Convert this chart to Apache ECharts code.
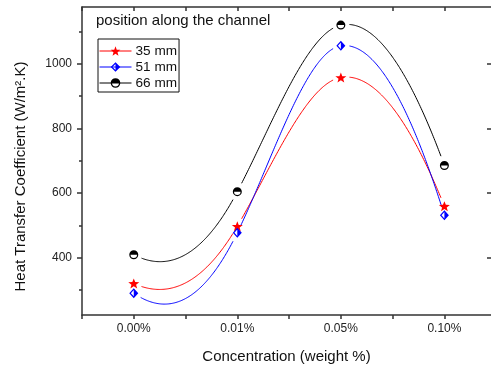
<!DOCTYPE html>
<html>
<head>
<meta charset="utf-8">
<script src="https://cdn.jsdelivr.net/npm/echarts@6/dist/echarts.min.js"></script>
<style>
html,body{margin:0;padding:0;background:#fff;}
#chart{width:491px;height:373px;}
</style>
</head>
<body>
<div id="chart"></div>
<script>
// ---- data ----
const categories = ['0.00%', '0.01%', '0.05%', '0.10%'];
const seriesNames = ['35 mm', '51 mm', '66 mm'];
const values35 = [320, 497, 957, 559];
const values51 = [290, 477, 1055, 531];
const values66 = [409, 604, 1119, 685];
const yTickLabels = [400, 600, 800, 1000];
const yMinorTicks = [300, 500, 700, 900, 1100];
const xTickPositions = [-0.5, 0, 0.5, 1, 1.5, 2, 2.5, 3];
const legendTitle = 'position along the channel';
const xTitle = 'Concentration (weight %)';
const yTitle = 'Heat Transfer Coefficient (W/m\u00B2.K)';

const FONT = '"Liberation Sans", Arial, sans-serif';
const colors = ['#ff0000', '#0000ff', '#000000'];
const allValues = [values35, values51, values66];

// symbol paths (with hollow halves)
function starPath() {
  let d = '';
  for (let k = 0; k < 10; k++) {
    const a = (-90 + k * 36) * Math.PI / 180;
    const r = k % 2 === 0 ? 10 : 4.2;
    const x = (10 + r * Math.cos(a)).toFixed(2);
    const y = (10 + r * Math.sin(a)).toFixed(2);
    d += (k === 0 ? 'M' : 'L') + x + ',' + y;
  }
  return 'path://' + d + 'Z';
}
const symbols = [
  starPath(),
  'path://M10,0L20,10L10,20Z M10,0L0,10L10,20L10,16.4L3.6,10L10,3.6Z',
  'path://M0,10A10,10 0 0 1 20,10Z M20,10A10,10 0 0 1 0,10L2.8,10A7.2,7.2 0 0 0 17.2,10Z'
];
const symbolSizes = [[11, 10], [9, 10], [9, 9]];

// Hermite spline tangents (rendering helper, Origin-like smooth connection)
function tangents(y) {
  const n = y.length, T = 0.86, K = 0.87;
  const m = new Array(n).fill(0);
  for (let i = 1; i < n - 1; i++) m[i] = T * (y[i + 1] - y[i - 1]);
  const d0 = y[1] - y[0], dn = y[n - 1] - y[n - 2];
  m[0] = d0 - K * (m[1] - d0);
  m[n - 1] = dn - K * (m[n - 2] - dn);
  return m;
}
function hermiteEval(y, m, x) {
  const n = y.length;
  const i = Math.min(Math.max(Math.floor(x), 0), n - 2);
  const t = x - i, t2 = t * t, t3 = t2 * t;
  return (2 * t3 - 3 * t2 + 1) * y[i] + (t3 - 2 * t2 + t) * m[i] +
    (-2 * t3 + 3 * t2) * y[i + 1] + (t3 - t2) * m[i + 1];
}

function makeCurveRender(vals, color) {
  const m = tangents(vals);
  return function (params, api) {
    if (params.dataIndex !== 0) return null;
    const pts = vals.map((v, i) => api.coord([i, v]));
    const gap = 8;
    const pieces = [];
    let cur = [];
    const per = 120;
    const steps = (vals.length - 1) * per;
    for (let s = 0; s <= steps; s++) {
      const x = s / per;
      const p = api.coord([x, hermiteEval(vals, m, x)]);
      let near = false;
      for (const q of pts) {
        if (Math.hypot(p[0] - q[0], p[1] - q[1]) < gap) { near = true; break; }
      }
      if (near) {
        if (cur.length > 1) pieces.push(cur);
        cur = [];
      } else cur.push(p);
    }
    if (cur.length > 1) pieces.push(cur);
    return {
      type: 'group',
      children: pieces.map(pp => ({
        type: 'polyline',
        shape: { points: pp },
        style: { stroke: color, lineWidth: 1, fill: null }
      }))
    };
  };
}

const series = [];
allValues.forEach((vals, k) => {
  series.push({
    name: 'curve ' + seriesNames[k],
    type: 'custom',
    xAxisIndex: 0, yAxisIndex: 0,
    data: vals.map((v, i) => [i, v]),
    encode: { x: 0, y: 1 },
    renderItem: makeCurveRender(vals, colors[k]),
    silent: true,
    z: 2
  });
});
allValues.forEach((vals, k) => {
  series.push({
    name: seriesNames[k],
    type: 'line',
    xAxisIndex: 0, yAxisIndex: 0,
    data: vals.map((v, i) => [i, v]),
    symbol: symbols[k],
    symbolSize: symbolSizes[k],
    showAllSymbol: true,
    lineStyle: { color: colors[k], width: 1, opacity: 0 },
    itemStyle: { color: colors[k], opacity: 1 },
    emphasis: { disabled: true },
    animation: false,
    z: 3
  });
});

const axisLineStyle = { color: '#333', width: 1.5 };
const labelStyle = { color: '#222', fontSize: 12, fontFamily: FONT };

const option = {
  animation: false,
  backgroundColor: '#fff',
  title: {
    text: legendTitle,
    left: 96, top: 13, padding: 0,
    textStyle: { fontSize: 15, fontWeight: 'normal', color: '#111', fontFamily: FONT }
  },
  legend: {
    data: seriesNames,
    orient: 'vertical',
    left: 98, top: 39,
    padding: [5, 2, 2, 1],
    itemGap: 2,
    itemWidth: 32, itemHeight: 12,
    itemStyle: { opacity: 1 },
    lineStyle: { width: 1, opacity: 1 },
    borderColor: '#111', borderWidth: 1, borderRadius: 0,
    textStyle: { fontSize: 13.6, color: '#111', fontFamily: FONT, lineHeight: 14, padding: [0, 0, 0, -1] },
    selectedMode: false
  },
  grid: { left: 82, top: 7, width: 409.5, height: 308 },
  xAxis: [
    {
      type: 'value', position: 'bottom', min: -0.5, max: 3.45,
      name: xTitle, nameLocation: 'middle', nameGap: 34,
      nameTextStyle: { fontSize: 15, color: '#111', fontFamily: FONT },
      axisLine: { show: true, onZero: false, lineStyle: axisLineStyle },
      axisTick: { show: true, inside: false, length: 4, customValues: xTickPositions, lineStyle: axisLineStyle },
      axisLabel: {
        show: true, margin: 8, ...labelStyle,
        customValues: categories.map((c, i) => i),
        formatter: v => categories[Math.round(v)]
      },
      splitLine: { show: false }
    },
    {
      type: 'value', position: 'top', min: -0.5, max: 3.45,
      axisLine: { show: true, onZero: false, lineStyle: axisLineStyle },
      axisTick: { show: true, inside: true, length: 4, customValues: xTickPositions, lineStyle: axisLineStyle },
      axisLabel: { show: false },
      splitLine: { show: false }
    }
  ],
  yAxis: [
    {
      type: 'value', position: 'left', min: 222.5, max: 1175,
      name: yTitle, nameLocation: 'middle', nameGap: 54,
      nameTextStyle: { fontSize: 15, color: '#111', fontFamily: FONT, padding: [0, 31, 0, 0] },
      axisLine: { show: true, onZero: false, lineStyle: axisLineStyle },
      axisTick: { show: true, inside: false, length: 5, customValues: yTickLabels, lineStyle: axisLineStyle },
      axisLabel: { show: true, margin: 10, ...labelStyle, customValues: yTickLabels, formatter: v => String(v) },
      splitLine: { show: false }
    },
    {
      type: 'value', position: 'left', offset: 0, min: 222.5, max: 1175,
      axisLine: { show: false, onZero: false },
      axisTick: { show: true, inside: false, length: 3, customValues: yMinorTicks, lineStyle: axisLineStyle },
      axisLabel: { show: false },
      splitLine: { show: false }
    },
    {
      type: 'value', position: 'right', offset: 0, min: 222.5, max: 1175,
      axisLine: { show: false, onZero: false },
      axisTick: { show: true, inside: true, length: 4, customValues: yTickLabels, lineStyle: axisLineStyle },
      axisLabel: { show: false },
      splitLine: { show: false }
    }
  ],
  series: series
};

const chart = echarts.init(document.getElementById('chart'), null, { renderer: 'canvas' });
chart.setOption(option);
</script>
</body>
</html>
